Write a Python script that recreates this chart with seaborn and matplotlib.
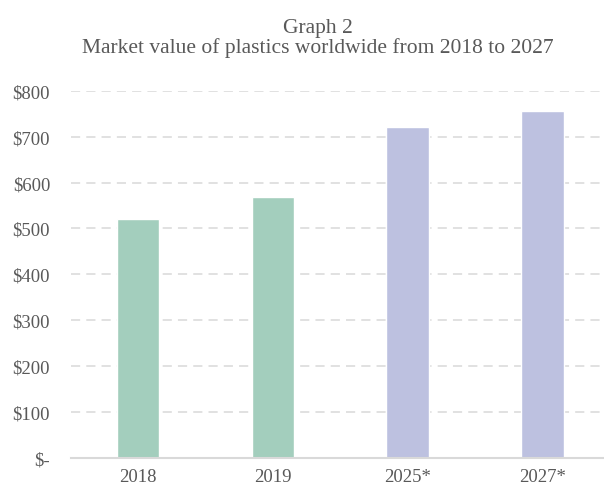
import matplotlib
matplotlib.use("Agg")
import matplotlib.pyplot as plt
import seaborn as sns
import pandas as pd
from matplotlib.ticker import FuncFormatter, MultipleLocator

years = ["2018", "2019", "2025*", "2027*"]
values = [521, 568, 721, 756]
period = ["Actual", "Actual", "Forecast", "Forecast"]
palette = {"Actual": "#A3CEBD", "Forecast": "#BDC1E0"}

df = pd.DataFrame({"year": years, "value": values, "period": period})

sns.set_theme(style="white")
plt.rcParams["font.family"] = ["Liberation Serif", "DejaVu Serif"]

text_color = "#595959"
grid_color = "#D9D9D9"

fig = plt.figure(figsize=(6.04, 4.89), dpi=100)
ax = fig.add_axes([71 / 604, 30 / 489, (604 - 71) / 604, (459 - 91.7) / 489])

sns.barplot(data=df, x="year", y="value", hue="period", palette=palette,
            dodge=False, width=0.315, legend=False, ax=ax, saturation=1)

ax.set_xlim(-0.497, 3.456)
ax.set_ylim(0, 800)
ax.yaxis.set_major_locator(MultipleLocator(100))
ax.yaxis.set_major_formatter(FuncFormatter(lambda v, _: "$-" if v == 0 else f"${v:.0f}"))

ax.set_axisbelow(True)
ax.grid(axis="y", color=grid_color, linestyle=(0, (6, 4)), linewidth=1.1)
ax.grid(axis="x", visible=False)
for side in ["top", "right", "left"]:
    ax.spines[side].set_visible(False)
ax.spines["bottom"].set_color(grid_color)
ax.spines["bottom"].set_linewidth(1.5)

ax.tick_params(axis="both", length=0, labelsize=13.5, labelcolor=text_color)
ax.tick_params(axis="y", pad=15)
ax.tick_params(axis="x", pad=7)
ax.set_xlabel("")
ax.set_ylabel("")

fig.text(317.5 / 604, 1 - 28 / 489, "Graph 2", ha="center", va="center",
         fontsize=15.5, color=text_color)
fig.text(317.5 / 604, 1 - 48 / 489, "Market value of plastics worldwide from 2018 to 2027",
         ha="center", va="center", fontsize=15.5, color=text_color)

fig.savefig("out.png", dpi=100)
